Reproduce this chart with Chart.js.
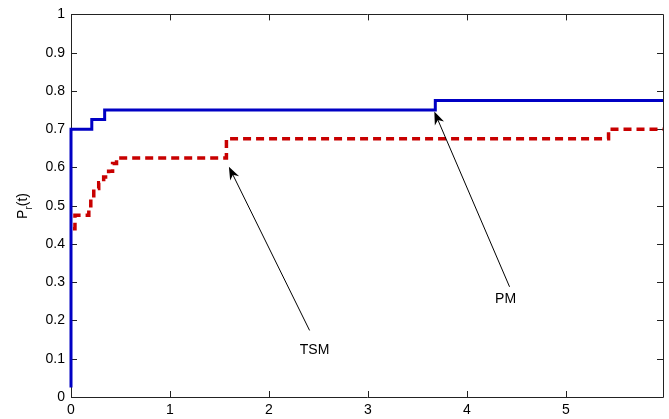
<!DOCTYPE html>
<html>
<head>
<meta charset="utf-8">
<script src="https://cdn.jsdelivr.net/npm/chart.js@4.4.1/dist/chart.umd.min.js"></script>
<style>
html,body{margin:0;padding:0;background:#fff;}
#wrap{width:669px;height:419px;position:relative;}
</style>
</head>
<body>
<div id="wrap"><canvas id="c" width="669" height="419"></canvas></div>
<script>
// ---- data ----
const xTicks = [0, 1, 2, 3, 4, 5];
const yTicks = [0, 0.1, 0.2, 0.3, 0.4, 0.5, 0.6, 0.7, 0.8, 0.9, 1];
const xMax = 5.98;

const pmX = [0, 0, 0.21, 0.34, 3.68, 5.98];
const pmY = [0.025, 0.70, 0.725, 0.75, 0.775, 0.775];

const tsmX = [0.02, 0.04, 0.18, 0.20, 0.23, 0.28, 0.33, 0.38, 0.42, 0.46, 1.57, 5.43, 5.98];
const tsmY = [0.44, 0.475, 0.50, 0.52, 0.545, 0.56, 0.575, 0.59, 0.61, 0.625, 0.675, 0.70, 0.70];

const annLabels = ['TSM', 'PM'];
const annTip = [[1.595, 0.602], [3.67, 0.746]];
const annTail = [[2.41, 0.174], [4.43, 0.288]];
const annText = [[2.46, 0.122], [4.39, 0.255]];

const toPts = (xs, ys) => xs.map((x, i) => ({x: x, y: ys[i]}));

const FONT = '"Liberation Sans", Arial, Helvetica, sans-serif';

const framePlugin = {
  id: 'frame',
  beforeDatasetsDraw(chart) {
    const {ctx, chartArea: a, scales} = chart;
    ctx.save();
    ctx.strokeStyle = '#222';
    ctx.lineWidth = 1;
    ctx.beginPath();
    ctx.rect(Math.round(a.left) + 0.5, Math.round(a.top) + 0.5,
             Math.round(a.right - a.left), Math.round(a.bottom - a.top));
    ctx.stroke();
    const tl = 6;
    ctx.beginPath();
    xTicks.forEach(v => {
      const px = Math.round(scales.x.getPixelForValue(v)) + 0.5;
      ctx.moveTo(px, a.bottom); ctx.lineTo(px, a.bottom - tl);
      ctx.moveTo(px, a.top); ctx.lineTo(px, a.top + tl);
    });
    yTicks.forEach(v => {
      const py = Math.round(scales.y.getPixelForValue(v)) + 0.5;
      ctx.moveTo(a.left, py); ctx.lineTo(a.left + tl, py);
      ctx.moveTo(a.right, py); ctx.lineTo(a.right - tl, py);
    });
    ctx.stroke();
    ctx.restore();
  },
  afterDraw(chart) {
    const {ctx, scales} = chart;
    ctx.save();
    // arrows
    annLabels.forEach((lab, i) => {
      const tx = scales.x.getPixelForValue(annTip[i][0]);
      const ty = scales.y.getPixelForValue(annTip[i][1]);
      const sx = scales.x.getPixelForValue(annTail[i][0]);
      const sy = scales.y.getPixelForValue(annTail[i][1]);
      const ang = Math.atan2(ty - sy, tx - sx);
      const L = 13, W = 5;
      ctx.strokeStyle = '#000';
      ctx.lineWidth = 1;
      ctx.beginPath();
      ctx.moveTo(sx, sy);
      ctx.lineTo(tx - Math.cos(ang) * 8, ty - Math.sin(ang) * 8);
      ctx.stroke();
      // head
      const bx = tx - Math.cos(ang) * L, by = ty - Math.sin(ang) * L;
      const nx = -Math.sin(ang), ny = Math.cos(ang);
      const mx = tx - Math.cos(ang) * L * 0.7, my = ty - Math.sin(ang) * L * 0.7;
      ctx.fillStyle = '#000';
      ctx.beginPath();
      ctx.moveTo(tx, ty);
      ctx.lineTo(bx + nx * W, by + ny * W);
      ctx.lineTo(mx, my);
      ctx.lineTo(bx - nx * W, by - ny * W);
      ctx.closePath();
      ctx.fill();
      // text
      ctx.font = '14px ' + FONT;
      ctx.fillStyle = '#000';
      ctx.textAlign = 'center';
      ctx.textBaseline = 'middle';
      ctx.fillText(lab, scales.x.getPixelForValue(annText[i][0]), scales.y.getPixelForValue(annText[i][1]));
    });
    // y-axis label P_r(t)
    ctx.translate(27, 206);
    ctx.rotate(-Math.PI / 2);
    ctx.textAlign = 'left';
    ctx.textBaseline = 'alphabetic';
    const f1 = '14px ' + FONT, f2 = '10px ' + FONT;
    ctx.font = f1; const wP = ctx.measureText('P').width; const wT = ctx.measureText('(t)').width;
    ctx.font = f2; const wr = ctx.measureText('r').width;
    let x0 = -(wP + wr + wT) / 2;
    ctx.font = f1; ctx.fillText('P', x0, 0); x0 += wP;
    ctx.font = f2; ctx.fillText('r', x0, 5); x0 += wr;
    ctx.font = f1; ctx.fillText('(t)', x0, 0);
    ctx.restore();
  }
};

new Chart(document.getElementById('c'), {
  type: 'line',
  data: {
    datasets: [
      {
        label: 'PM',
        data: toPts(pmX, pmY),
        borderColor: '#0000c4',
        borderWidth: 3,
        stepped: true,
        pointRadius: 0,
        fill: false,
        clip: false
      },
      {
        label: 'TSM',
        data: toPts(tsmX, tsmY),
        borderColor: '#c80000',
        borderWidth: 3.5,
        borderDash: [8, 5],
        stepped: true,
        pointRadius: 0,
        fill: false,
        clip: false
      }
    ]
  },
  options: {
    responsive: false,
    animation: false,
    layout: {padding: {top: 14, right: 6, left: 0, bottom: 0}},
    plugins: {legend: {display: false}, tooltip: {enabled: false}},
    scales: {
      x: {
        type: 'linear',
        min: 0, max: xMax,
        grid: {display: false, drawTicks: false},
        border: {display: false},
        afterBuildTicks: s => { s.ticks = xTicks.map(v => ({value: v})); },
        afterFit: s => { s.height = 22; },
        ticks: {
          padding: 5,
          color: '#000',
          font: {family: FONT, size: 14},
          maxRotation: 0,
          callback: v => String(v)
        }
      },
      y: {
        type: 'linear',
        min: 0, max: 1,
        grid: {display: false, drawTicks: false},
        border: {display: false},
        afterBuildTicks: s => { s.ticks = yTicks.map(v => ({value: v})); },
        afterFit: s => { s.width = 71; },
        ticks: {
          padding: 6,
          color: '#000',
          font: {family: FONT, size: 14},
          callback: v => String(Math.round(v * 10) / 10)
        }
      }
    }
  },
  plugins: [framePlugin]
});
</script>
</body>
</html>
